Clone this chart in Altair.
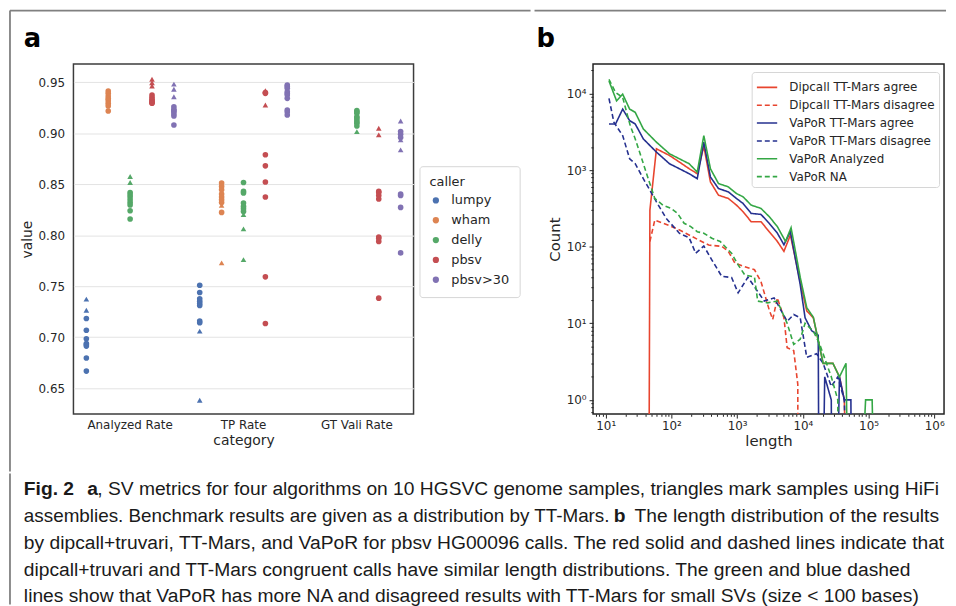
import altair as alt
import pandas as pd

# ---------------- Panel a data ----------------
categories = ["Analyzed Rate", "TP Rate", "GT Vali Rate"]
callers = ["lumpy", "wham", "delly", "pbsv", "pbsv>30"]
caller_colors = ["#4C72B0", "#DD8452", "#55A868", "#C44E52", "#8172B3"]

# circles = samples not using HiFi assemblies, triangles = HiFi assemblies
analyzed_circle = {
    "lumpy": [0.7184, 0.7069, 0.6985, 0.6939, 0.6925, 0.6913, 0.6796, 0.6668],
    "wham": [0.9415, 0.9392, 0.9366, 0.9343, 0.9320, 0.9294, 0.9268, 0.9219],
    "delly": [0.8420, 0.8397, 0.8375, 0.8348, 0.8322, 0.8297, 0.8241, 0.8160],
    "pbsv": [0.9376, 0.9353, 0.9334, 0.9320, 0.9310, 0.9300, 0.9295],
    "pbsv>30": [0.9261, 0.9236, 0.9220, 0.9212, 0.9190, 0.9170, 0.9082],
}
analyzed_triangle = {
    "lumpy": [0.7373, 0.7265],
    "wham": [0.9350, 0.9300],
    "delly": [0.8576, 0.8518],
    "pbsv": [0.9530, 0.9496, 0.9464],
    "pbsv>30": [0.9483, 0.9432, 0.9359],
}
tp_circle = {
    "lumpy": [0.7510, 0.7438, 0.7377, 0.7353, 0.7330, 0.7311, 0.7158, 0.7142],
    "wham": [0.8512, 0.8479, 0.8446, 0.8404, 0.8375, 0.8348, 0.8322, 0.8224],
    "delly": [0.8518, 0.8430, 0.8414, 0.8316, 0.8283, 0.8260, 0.8234],
    "pbsv": [0.9400, 0.9392, 0.8789, 0.8681, 0.8522, 0.8375, 0.7592, 0.7135],
    "pbsv>30": [0.9474, 0.9460, 0.9441, 0.9408, 0.9390, 0.9376, 0.9343, 0.9229, 0.9210, 0.9180],
}
tp_triangle = {
    "lumpy": [0.7060, 0.6382],
    "wham": [0.8293, 0.7729],
    "delly": [0.8202, 0.8062, 0.7761],
    "pbsv": [0.9418, 0.9278],
    "pbsv>30": [],
}
gt_circle = {
    "delly": [0.9222, 0.9210, 0.9197, 0.9163, 0.9150, 0.9131, 0.9110, 0.9099, 0.9072],
    "pbsv": [0.8430, 0.8420, 0.8390, 0.8355, 0.7983, 0.7970, 0.7940, 0.7383],
    "pbsv>30": [0.9017, 0.8990, 0.8958, 0.8404, 0.8390, 0.8273, 0.7827],
}
gt_triangle = {
    "delly": [0.9017],
    "pbsv": [0.9050, 0.8984],
    "pbsv>30": [0.9121, 0.8935, 0.8838],
}
y_ticks_a = [0.65, 0.70, 0.75, 0.80, 0.85, 0.90, 0.95]

rows = []
for cat, circ, tri in [("Analyzed Rate", analyzed_circle, analyzed_triangle),
                       ("TP Rate", tp_circle, tp_triangle),
                       ("GT Vali Rate", gt_circle, gt_triangle)]:
    for c in callers:
        for v in circ.get(c, []):
            rows.append({"category": cat, "caller": c, "value": v, "marker": "circle"})
        for v in tri.get(c, []):
            rows.append({"category": cat, "caller": c, "value": v, "marker": "triangle"})
df_a = pd.DataFrame(rows)

# ---------------- Panel b data ----------------
series_names = ["Dipcall TT-Mars agree", "Dipcall TT-Mars disagree",
                "VaPoR TT-Mars agree", "VaPoR TT-Mars disagree",
                "VaPoR Analyzed", "VaPoR NA"]
series_colors = ["#E8452F", "#E8452F", "#25308F", "#25308F", "#34A745", "#34A745"]
series_dash = [[1, 0], [5, 3], [1, 0], [5, 3], [1, 0], [5, 3]]

dip_agree_len = [44.3, 47, 59.1, 93.3, 131.6, 186, 247, 311, 392, 520, 734, 977, 1230, 1635,
                 2306, 3076, 4096, 5156, 6460, 9120, 11470, 14450, 20370, 28730, 36100, 42800, 53900]
dip_agree_cnt = [0, 300, 1895, 1552, 1275, 1043, 897, 2056, 701, 470, 426, 349, 286, 212,
                 212, 157, 117, 87, 142, 35, 14.5, 11.8, 3, 3, 2, 1, 0]

dip_dis_len = [47, 55.8, 117, 165, 262, 369, 583, 734, 925, 1303, 1836, 2306, 3076, 3480,
               4096, 5156, 5770, 7260, 8380, 8500]
dip_dis_cnt = [117, 223, 174, 150, 122, 105, 101, 87, 61, 55, 50, 35, 15, 11.2,
               21.5, 11.8, 4.8, 4.4, 1.6, 0]

vap_agree_len = [11.2, 14.1, 18.1, 23.1, 28.1, 37.3, 59.1, 93.3, 131.6, 186, 247, 311, 392, 520,
                 734, 977, 1230, 1635, 2306, 3076, 4096, 5156, 6460, 9120, 10820, 13630, 17150,
                 18130, 21530, 27100, 28730, 36100, 42800, 53900, 57100]
vap_agree_cnt = [4000, 4000, 6250, 4420, 4000, 2553, 1718, 1211, 1043, 897, 773, 2313, 813, 574,
                 520, 426, 367, 272, 264, 202, 150, 106, 158, 32, 11.8, 8, 7,
                 0, 2, 1, 0, 2, 1, 1, 0]

vap_dis_len = [11.2, 13.3, 18.1, 23.1, 28.1, 37.3, 47, 59.1, 83.4, 131.6, 186, 234, 311, 413,
               583, 823, 1035, 1460, 2056, 2590, 3652, 5770, 7260, 9120, 11470, 16190, 20370,
               27100, 34100, 42800, 53900]
vap_dis_cnt = [8610, 4210, 2820, 1407, 1211, 773, 546, 385, 234, 150, 131, 82, 102, 67,
               41, 39.6, 25, 40, 26, 19.5, 21.5, 10.6, 13, 11.8, 3.6, 4, 3,
               1.5, 2, 1, 0]

vap_an_len = [11.2, 14.6, 18.1, 23.1, 28.1, 37.3, 59.1, 93.3, 131.6, 186, 247, 311, 392, 520,
              734, 977, 1230, 1635, 2306, 3076, 4096, 5450, 6620, 9120, 11470, 14450, 20370,
              28730, 36100, 45400, 53900, 90200, 113500, 142700]
vap_an_cnt = [14560, 8020, 9790, 6250, 5670, 3446, 2313, 1633, 1407, 1211, 942, 2820, 1043, 667,
              604, 494, 448, 349, 316, 247, 183, 117, 177, 40, 16, 12, 3,
              3, 2, 3, 0, 1, 1, 0]

vap_na_len = [11.2, 14.1, 18.1, 23.6, 28.1, 35.3, 44.3, 55.8, 74.2, 99, 124, 156, 197, 247,
              311, 413, 552, 823, 1035, 1303, 1836, 2056, 2902, 4096, 5770, 7260, 9120, 10820,
              14450, 18130, 27100, 34100, 34500]
vap_na_cnt = [15300, 10300, 8870, 3800, 2553, 1407, 773, 426, 349, 316, 272, 202, 183, 157,
              150, 129, 117, 82, 58, 43, 40, 19.5, 18.5, 19.5, 10, 5.3, 6.2, 10,
              7.9, 5.3, 2, 1, 0]

series_data = [
    (series_names[0], dip_agree_len, dip_agree_cnt),
    (series_names[1], dip_dis_len, dip_dis_cnt),
    (series_names[2], vap_agree_len, vap_agree_cnt),
    (series_names[3], vap_dis_len, vap_dis_cnt),
    (series_names[4], vap_an_len, vap_an_cnt),
    (series_names[5], vap_na_len, vap_na_cnt),
]
brows = []
for name, ls, cs in series_data:
    for i, (l, c) in enumerate(zip(ls, cs)):
        # zero counts fall below the log axis (drawn as drops off the bottom)
        brows.append({"series": name, "length": l, "count": c if c > 0 else 1e-4, "idx": i})
df_b = pd.DataFrame(brows)

# caption text
caption_l1_bold = "Fig. 2"
caption_l1_a = "a"
caption_l1 = ", SV metrics for four algorithms on 10 HGSVC genome samples, triangles mark samples using HiFi"
caption_l2a = "assemblies. Benchmark results are given as a distribution by TT-Mars."
caption_l2_b = "b"
caption_l2b = "The length distribution of the results"
caption_l3 = "by dipcall+truvari, TT-Mars, and VaPoR for pbsv HG00096 calls. The red solid and dashed lines indicate that"
caption_l4 = "dipcall+truvari and TT-Mars congruent calls have similar length distributions. The green and blue dashed"
caption_l5 = "lines show that VaPoR has more NA and disagreed results with TT-Mars for small SVs (size < 100 bases)"

TXT = "#262626"
FRAME = "#808080"


def frame_rule(x1, x2, y1, y2):
    # decorative figure border piece (pixel offsets relative to the panel)
    enc = {"x": alt.value(x1), "y": alt.value(y1)}
    if x2 is not None:
        enc["x2"] = alt.value(x2)
    if y2 is not None:
        enc["y2"] = alt.value(y2)
    return alt.Chart(alt.Data(values=[{}])).mark_rule(
        color=FRAME, strokeWidth=1.8, clip=False).encode(**enc)


def frame_bar(x1, x2, y1, y2):
    # thin filled strip used as a vertical border piece
    return alt.Chart(alt.Data(values=[{}])).mark_rect(
        color=FRAME, clip=False).encode(
        x=alt.value(x1), x2=alt.value(x2), y=alt.value(y1), y2=alt.value(y2))


def panel_label(text, x, y):
    return alt.Chart(pd.DataFrame({"t": [text]})).mark_text(
        align="left", baseline="middle", fontSize=26, fontWeight="bold", color="black",
        font="DejaVu Sans", clip=False).encode(text="t:N", x=alt.value(x), y=alt.value(y))


# ---------------- Panel a ----------------
points_a = alt.Chart(df_a).mark_point(filled=True, opacity=1, size=32, strokeWidth=0).encode(
    x=alt.X("category:N", sort=categories,
            scale=alt.Scale(domain=categories, paddingInner=0, paddingOuter=0),
            axis=alt.Axis(title="category", labelAngle=0, ticks=False, domain=False, grid=False,
                          labelFontSize=12, titleFontSize=14, titleFontWeight="normal",
                          labelPadding=6, titlePadding=3, labelColor=TXT, titleColor=TXT)),
    xOffset=alt.XOffset("caller:N", sort=callers,
                        scale=alt.Scale(domain=callers, paddingOuter=0.59, paddingInner=0)),
    y=alt.Y("value:Q", scale=alt.Scale(domain=[0.6246, 0.9679], nice=False, zero=False),
            axis=alt.Axis(title="value", values=y_ticks_a, format=".2f", ticks=False, domain=False,
                          gridColor="#E3E3E3", gridWidth=1, labelFontSize=12, titleFontSize=14,
                          titleFontWeight="normal", labelPadding=9, titlePadding=4,
                          labelColor=TXT, titleColor=TXT)),
    color=alt.Color("caller:N", scale=alt.Scale(domain=callers, range=caller_colors),
                    legend=alt.Legend(title="caller", orient="none", legendX=349, legendY=103,
                                      titleFontSize=13, titleFontWeight="normal", titleAnchor="start",
                                      titleColor=TXT, labelColor=TXT, labelFontSize=13,
                                      symbolType="circle", symbolSize=40, symbolStrokeWidth=0,
                                      rowPadding=6, padding=10, titlePadding=5, labelOffset=9,
                                      strokeColor="#D6D6D6", fillColor="white", cornerRadius=3)),
    shape=alt.Shape("marker:N", scale=alt.Scale(domain=["circle", "triangle"],
                                                range=["circle", "triangle-up"]), legend=None),
)

panel_a = alt.layer(
    points_a,
    panel_label("a", -50, -25),
    frame_rule(-64, 461, -54, None),
    frame_rule(-64, None, -54, 411),
).properties(
    width=343, height=353,
    view=alt.ViewBackground(stroke="#3C3C3C", strokeWidth=1.5),
)

# ---------------- Panel b ----------------
def log_ticks(lo, hi):
    out = []
    for e in range(-1, 8):
        for m in range(1, 10):
            v = m * 10 ** e
            if lo <= v <= hi:
                out.append(v)
    return out

is_major = "abs(log(datum.value)/LN10 - round(log(datum.value)/LN10)) < 0.001"
sup = "['\u207b\u00b9','\u2070','\u00b9','\u00b2','\u00b3','\u2074','\u2075','\u2076','\u2077']"
label_expr = f"({is_major}) ? '10' + {sup}[round(log(datum.value)/LN10)+1] : ''"
tick_cond = {"condition": {"test": is_major, "value": 4}, "value": 2.2}

x_dom = [6.4, 1.41e6]
y_dom = [0.653, 24200]

legend_b = dict(title=None, orient="none", legendX=160, legendY=8,
                symbolType="stroke", symbolSize=420, symbolStrokeWidth=1.6,
                labelFontSize=12, labelColor=TXT, rowPadding=-2, padding=4,
                labelOffset=11, strokeColor="#D6D6D6", fillColor="white", cornerRadius=3)

lines_b = alt.Chart(df_b).mark_line(strokeWidth=1.6, clip=True).encode(
    x=alt.X("length:Q", scale=alt.Scale(type="log", domain=x_dom, nice=False),
            axis=alt.Axis(title="length", values=log_ticks(*x_dom), labelExpr=label_expr,
                          labelOverlap=False, tickSize=tick_cond, tickColor="#222", domain=False,
                          grid=False, labelFontSize=12, titleFontSize=15, titleFontWeight="normal",
                          labelPadding=3, titlePadding=2, labelColor=TXT, titleColor=TXT)),
    y=alt.Y("count:Q", scale=alt.Scale(type="log", domain=y_dom, nice=False),
            axis=alt.Axis(title="Count", values=log_ticks(*y_dom), labelExpr=label_expr,
                          labelOverlap=False, tickSize=tick_cond, tickColor="#222", domain=False,
                          grid=False, labelFontSize=12, titleFontSize=15, titleFontWeight="normal",
                          labelPadding=3, titlePadding=4, labelColor=TXT, titleColor=TXT)),
    color=alt.Color("series:N", scale=alt.Scale(domain=series_names, range=series_colors),
                    legend=alt.Legend(**legend_b)),
    strokeDash=alt.StrokeDash("series:N", scale=alt.Scale(domain=series_names, range=series_dash),
                              legend=alt.Legend(**legend_b)),
    detail="series:N",
    order="idx:Q",
)

panel_b = alt.layer(
    lines_b,
    panel_label("b", -57, -25),
    frame_rule(-59, 356, -54, None),
).properties(
    width=354, height=353,
    view=alt.ViewBackground(stroke="#222222", strokeWidth=1.5),
)

# ---------------- Caption ----------------
CAP_FONT = "Liberation Sans, Arial"
CAP_SIZE = 19.4
X0 = -50
LINE_Y = [10, 37, 64, 91, 118]

def cap(text, x, y, bold=False, align="left", size=CAP_SIZE):
    return alt.Chart(pd.DataFrame({"t": [text]})).mark_text(
        align=align, baseline="middle", font=CAP_FONT, fontSize=size,
        fontWeight="bold" if bold else "normal", color="#1a1a1a"
    ).encode(text="t:N", x=alt.value(x), y=alt.value(y))

caption = alt.layer(
    cap(caption_l1_bold, X0, LINE_Y[0], True),
    cap(caption_l1_a, X0 + 64, LINE_Y[0], True),
    cap(caption_l1, X0 + 74, LINE_Y[0]),
    cap(caption_l2a, X0, LINE_Y[1], size=19.0),
    cap(caption_l2_b, X0 + 595, LINE_Y[1], True),
    cap(caption_l2b, X0 + 923, LINE_Y[1], align="right"),
    cap(caption_l3, X0, LINE_Y[2]),
    cap(caption_l4, X0, LINE_Y[3]),
    cap(caption_l5, X0, LINE_Y[4]),
    frame_bar(-64.9, -63.1, -6, 126),
).properties(width=850, height=119)

top = alt.hconcat(panel_a, panel_b, spacing=0).resolve_scale(
    color="independent", shape="independent", strokeDash="independent")

chart = alt.vconcat(top, caption, spacing=0).properties(
    padding={"left": 0, "top": -2, "right": 0, "bottom": -1}
).configure(font="DejaVu Sans").configure_view(strokeWidth=0)

chart.save("out.html", embed_options={"renderer": "svg", "actions": False})
